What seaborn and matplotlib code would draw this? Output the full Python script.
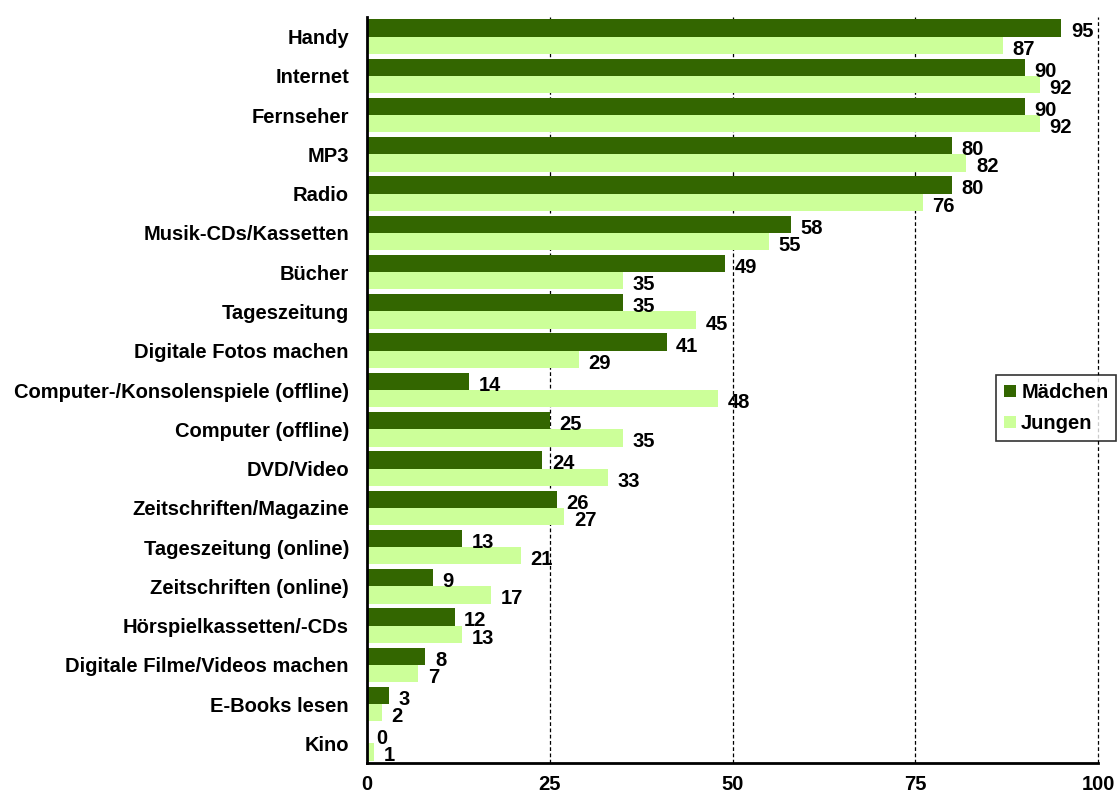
import matplotlib
matplotlib.use("Agg")
import matplotlib.pyplot as plt
import seaborn as sns
import pandas as pd
import numpy as np

categories = ["Handy", "Internet", "Fernseher", "MP3", "Radio", "Musik-CDs/Kassetten",
              "Bücher", "Tageszeitung", "Digitale Fotos machen",
              "Computer-/Konsolenspiele (offline)", "Computer (offline)", "DVD/Video",
              "Zeitschriften/Magazine", "Tageszeitung (online)", "Zeitschriften (online)",
              "Hörspielkassetten/-CDs", "Digitale Filme/Videos machen", "E-Books lesen", "Kino"]
maedchen = [95, 90, 90, 80, 80, 58, 49, 35, 41, 14, 25, 24, 26, 13, 9, 12, 8, 3, 0]
jungen = [87, 92, 92, 82, 76, 55, 35, 45, 29, 48, 35, 33, 27, 21, 17, 13, 7, 2, 1]
series_names = ["Mädchen", "Jungen"]
x_ticks = [0, 25, 50, 75, 100]

df = pd.DataFrame({
    "Kategorie": categories * 2,
    "Wert": maedchen + jungen,
    "Gruppe": [series_names[0]] * len(categories) + [series_names[1]] * len(categories),
})

sns.set_style("white")
plt.rcParams['font.family'] = ['Liberation Sans', 'DejaVu Sans']
plt.rcParams['font.weight'] = 'bold'
plt.rcParams['text.color'] = 'black'
plt.rcParams['xtick.color'] = 'black'
plt.rcParams['ytick.color'] = 'black'
plt.rcParams['xtick.labelcolor'] = 'black'
plt.rcParams['ytick.labelcolor'] = 'black'

FS = 14.5

fig = plt.figure(figsize=(11.18, 7.96), dpi=100)
ax = fig.add_axes([367/1118, 1 - 763/796, (1098-367)/1118, (763-17)/796])

palette = {"Mädchen": "#336600", "Jungen": "#CCFF99"}
sns.barplot(data=df, y="Kategorie", x="Wert", hue="Gruppe", order=categories,
            hue_order=series_names, palette=palette, orient="h", width=0.88,
            gap=0, saturation=1, ax=ax, legend=True, edgecolor="none", linewidth=0)

ax.set_xlim(0, 100)
ax.set_ylim(len(categories) - 0.5, -0.5)
ax.set_xticks(x_ticks)
ax.set_xticklabels([str(t) for t in x_ticks], fontsize=FS, fontweight="bold")
ax.tick_params(axis="x", direction="out", length=6, width=1.5, color="black", pad=3)
ax.set_yticks(range(len(categories)))
ax.set_yticklabels(categories, fontsize=FS, fontweight="bold")
ax.tick_params(axis="y", which="major", length=0, pad=13)
ax.set_yticks(np.arange(-0.5, len(categories), 1), minor=True)
ax.tick_params(axis="y", which="minor", length=5, width=1.5, color="black", direction="out")
ax.set_xlabel("")
ax.set_ylabel("")

for x in x_ticks[1:]:
    ax.axvline(x, color="black", linestyle=(0, (3, 2)), linewidth=0.9, zorder=0, clip_on=False)

for s in ["top", "right"]:
    ax.spines[s].set_visible(False)
for s in ["left", "bottom"]:
    ax.spines[s].set_color("black")
    ax.spines[s].set_linewidth(2)

for cont in ax.containers:
    for bar in cont:
        w = bar.get_width()
        y = bar.get_y() + bar.get_height() / 2
        ax.text(w + 1.3, y + 0.1, f"{int(round(w))}", va="center", ha="left",
                fontsize=FS, fontweight="bold", color="black")

leg = ax.legend(loc="upper left", bbox_to_anchor=((996-367)/(1098-367), 1 - (375-17)/(763-17)),
                frameon=True, prop={"weight": "bold", "size": FS},
                handlelength=0.6, handleheight=0.6, handletextpad=0.25,
                borderpad=0.4, labelspacing=0.6, fancybox=False, borderaxespad=0)
leg.get_frame().set_edgecolor("black")
leg.get_frame().set_linewidth(1.2)
for t in leg.get_texts():
    t.set_color("black")

fig.savefig("out.png", dpi=100)
